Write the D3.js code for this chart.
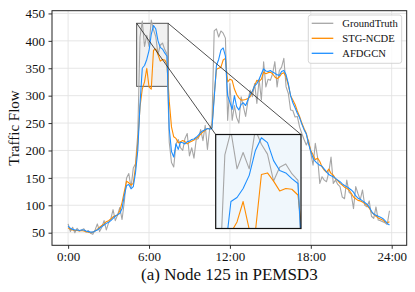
<!DOCTYPE html>
<html>
<head>
<meta charset="utf-8">
<script src="https://cdn.jsdelivr.net/npm/d3@7"></script>
<style>
  html, body { margin: 0; padding: 0; background: #fff; }
  svg { display: block; font-family: "Liberation Serif", "DejaVu Serif", serif; }
</style>
</head>
<body>
<div id="chart"></div>
<script>
// 5-minute slots of the day, read every 10 minutes (slot 0 .. 286)
const slots = d3.range(0, 288, 2);

const groundTruth = [
  66, 52, 60, 50, 58, 53, 55, 57, 51, 54,
  49, 47, 55, 66, 52, 60, 72, 55, 68, 75,
  92, 72, 82, 96, 74, 106, 150, 158, 132, 168,
  176, 230, 407, 436, 390, 410, 390, 438, 420, 408,
  375, 392, 396, 384, 376, 215, 178, 170, 212, 220,
  205, 200, 222, 231, 190, 205, 186, 220, 222, 238,
  218, 246, 202, 240, 249, 418, 422, 407, 418, 414,
  405, 255, 322, 255, 282, 260, 250, 298, 280, 262,
  290, 310, 298, 322, 286, 330, 292, 362, 316, 330,
  328, 340, 362, 316, 346, 352, 368, 316, 304, 274,
  273, 261, 262, 243, 231, 220, 210, 219, 195, 173,
  213, 188, 140, 152, 146, 143, 160, 188, 140, 146,
  138, 134, 115, 112, 146, 124, 120, 94, 134, 121,
  110, 128, 100, 97, 108, 80, 76, 97, 73, 72,
  70, 68, 65, 90
];

const stgNcde = [
  59, 56, 55, 54, 54, 53, 54, 53, 52, 51,
  50, 51, 53, 56, 60, 63, 66, 70, 72, 75,
  79, 81, 82, 90, 105, 125, 144, 141, 137, 140,
  170, 215, 280, 312, 325, 350, 316, 312, 383, 385,
  375, 363, 366, 365, 358, 290, 243, 225, 222, 214,
  216, 218, 216, 212, 215, 217, 219, 222, 225, 230,
  234, 237, 240, 240, 242, 300, 348, 350, 352, 365,
  368, 325, 330, 328, 312, 302, 296, 292, 292, 293,
  295, 298, 308, 318, 328, 326, 330, 343, 340, 342,
  343, 340, 334, 331, 334, 340, 342, 334, 319, 300,
  292, 284, 272, 262, 250, 240, 231, 215, 200, 192,
  183, 186, 180, 170, 164, 160, 166, 158, 155, 148,
  145, 140, 137, 133, 131, 128, 122, 115, 112, 109,
  108, 106, 103, 100, 95, 88, 84, 80, 77, 75,
  73, 70, 68, 70
];

const afdgcn = [
  62, 58, 56, 55, 55, 54, 55, 55, 53, 52,
  51, 51, 53, 55, 58, 61, 64, 67, 69, 72,
  76, 80, 83, 85, 94, 118, 136, 138, 130, 134,
  160, 200, 285, 350, 355, 366, 382, 412, 428, 422,
  400, 388, 385, 378, 372, 240, 198, 188, 212, 202,
  215, 214, 212, 216, 217, 220, 221, 224, 228, 233,
  236, 238, 240, 239, 240, 295, 355, 366, 383, 387,
  372, 300, 288, 275, 300, 280, 274, 284, 287, 282,
  292, 302, 308, 318, 322, 330, 340, 349, 345, 344,
  346, 343, 341, 338, 337, 344, 346, 338, 322, 300,
  287, 278, 268, 260, 248, 238, 230, 212, 198, 186,
  180, 176, 173, 171, 166, 161, 156, 154, 152, 149,
  146, 143, 139, 136, 134, 131, 128, 124, 117, 113,
  111, 108, 105, 102, 97, 89, 84, 82, 80, 78,
  76, 72, 67, 64
];

const seriesNames = ["GroundTruth", "STG-NCDE", "AFDGCN"];
const seriesColors = ["#a6a6a6", "#ff8c00", "#1e8fff"];

const xTickSlots = [0, 72, 144, 216, 288];
const xTickLabels = ["0:00", "6:00", "12:00", "18:00", "24:00"];
const yTicks = [50, 100, 150, 200, 250, 300, 350, 400, 450];

// zoomed window shown in the inset
const zoomSlots = [61, 89];
const zoomFlow = [317, 432];

const series = [groundTruth, stgNcde, afdgcn].map((vals, i) => ({
  name: seriesNames[i],
  color: seriesColors[i],
  values: vals.map((v, j) => ({ slot: slots[j], value: v }))
}));

// sizes
const W = 415, H = 292;
const margin = {top: 10.7, right: 8.3, bottom: 46.7, left: 52};
const width = W - margin.left - margin.right;
const height = H - margin.top - margin.bottom;

const svg = d3.select("#chart")
  .append("svg")
  .attr("width", W)
  .attr("height", H);

const g = svg.append("g")
  .attr("transform", `translate(${margin.left},${margin.top})`);

const x = d3.scaleLinear().domain([-14.35, 301.35]).range([0, width]);
const y = d3.scaleLinear().domain([27, 455]).range([height, 0]);

// grid
g.append("g").selectAll("line")
  .data(yTicks).enter().append("line")
  .attr("x1", 0).attr("x2", width)
  .attr("y1", d => y(d)).attr("y2", d => y(d))
  .attr("stroke", "#e3e3e3").attr("stroke-width", 0.9);
g.append("g").selectAll("line")
  .data(xTickSlots).enter().append("line")
  .attr("y1", 0).attr("y2", height)
  .attr("x1", d => x(d)).attr("x2", d => x(d))
  .attr("stroke", "#e3e3e3").attr("stroke-width", 0.9);

// axes
const yAxis = g.append("g")
  .call(d3.axisLeft(y).tickValues(yTicks).tickSize(3.5).tickPadding(3.5));
const xAxis = g.append("g")
  .attr("transform", `translate(0,${height})`)
  .call(d3.axisBottom(x).tickValues(xTickSlots).tickSize(3.5).tickPadding(3)
    .tickFormat((d, i) => xTickLabels[i]));
[yAxis, xAxis].forEach(a => {
  a.select(".domain").remove();
  a.selectAll("text")
    .style("font-family", "Liberation Serif, serif")
    .style("font-size", "13px")
    .attr("fill", "#111");
  a.selectAll("line").attr("stroke", "#333");
});

// zoom box on the main axes
g.append("rect")
  .attr("x", x(zoomSlots[0]))
  .attr("y", y(zoomFlow[1]))
  .attr("width", x(zoomSlots[1]) - x(zoomSlots[0]))
  .attr("height", y(zoomFlow[0]) - y(zoomFlow[1]))
  .attr("fill", "#f1f1f1")
  .attr("stroke", "#555")
  .attr("stroke-width", 1);

// lines
const clip = svg.append("defs").append("clipPath").attr("id", "plotclip");
clip.append("rect").attr("width", width).attr("height", height);

const line = d3.line()
  .x(d => x(d.slot))
  .y(d => y(d.value));

g.append("g").attr("clip-path", "url(#plotclip)")
  .selectAll("path")
  .data(series).enter().append("path")
  .attr("fill", "none")
  .attr("stroke", d => d.color)
  .attr("stroke-width", 1.1)
  .attr("stroke-linejoin", "round")
  .attr("d", d => line(d.values));

// inset axes
const inset = {left: 163.7, top: 123.8, width: 85.3, height: 94};
const xi = d3.scaleLinear().domain(zoomSlots).range([0, inset.width]);
const yi = d3.scaleLinear().domain(zoomFlow).range([inset.height, 0]);

// connector lines: box upper corners to inset upper corners
const connectors = [
  [x(zoomSlots[0]), y(zoomFlow[1]), inset.left, inset.top],
  [x(zoomSlots[1]), y(zoomFlow[1]), inset.left + inset.width, inset.top]
];
g.append("g").selectAll("line")
  .data(connectors).enter().append("line")
  .attr("x1", d => d[0]).attr("y1", d => d[1])
  .attr("x2", d => d[2]).attr("y2", d => d[3])
  .attr("stroke", "#222").attr("stroke-width", 0.8);

const ig = g.append("g")
  .attr("transform", `translate(${inset.left},${inset.top})`);
svg.select("defs").append("clipPath").attr("id", "insetclip")
  .append("rect").attr("width", inset.width).attr("height", inset.height);
ig.append("rect")
  .attr("width", inset.width).attr("height", inset.height)
  .attr("fill", "#f0f7fc");
const iline = d3.line()
  .x(d => xi(d.slot))
  .y(d => yi(d.value));
ig.append("g").attr("clip-path", "url(#insetclip)")
  .selectAll("path")
  .data(series).enter().append("path")
  .attr("fill", "none")
  .attr("stroke", d => d.color)
  .attr("stroke-width", 1.1)
  .attr("stroke-linejoin", "round")
  .attr("d", d => iline(d.values));
ig.append("rect")
  .attr("width", inset.width).attr("height", inset.height)
  .attr("fill", "none").attr("stroke", "#111").attr("stroke-width", 1.2);

// spines
g.append("rect")
  .attr("width", width).attr("height", height)
  .attr("fill", "none").attr("stroke", "#222").attr("stroke-width", 1);

// labels
svg.append("text")
  .attr("transform", `translate(18.5,${margin.top + height / 2}) rotate(-90)`)
  .attr("text-anchor", "middle")
  .style("font-size", "15px")
  .attr("fill", "#111")
  .text("Traffic Flow");

svg.append("text")
  .attr("x", margin.left + width / 2)
  .attr("y", 280)
  .attr("text-anchor", "middle")
  .style("font-size", "17px")
  .attr("fill", "#111")
  .text("(a) Node 125 in PEMSD3");

// legend
const legend = svg.append("g").attr("transform", "translate(308.3,15)");
legend.append("rect")
  .attr("width", 93.4).attr("height", 48.3)
  .attr("rx", 2.5)
  .attr("fill", "#fff").attr("fill-opacity", 0.8)
  .attr("stroke", "#cccccc").attr("stroke-width", 0.8);
const item = legend.selectAll("g.item")
  .data(series).enter().append("g")
  .attr("class", "item")
  .attr("transform", (d, i) => `translate(0,${8.3 + i * 15})`);
item.append("line")
  .attr("x1", 3.4).attr("x2", 25)
  .attr("stroke", d => d.color).attr("stroke-width", 1.3);
item.append("text")
  .attr("x", 34)
  .attr("y", 3.6)
  .style("font-size", "10.6px")
  .attr("fill", "#111")
  .text(d => d.name);
</script>
</body>
</html>
